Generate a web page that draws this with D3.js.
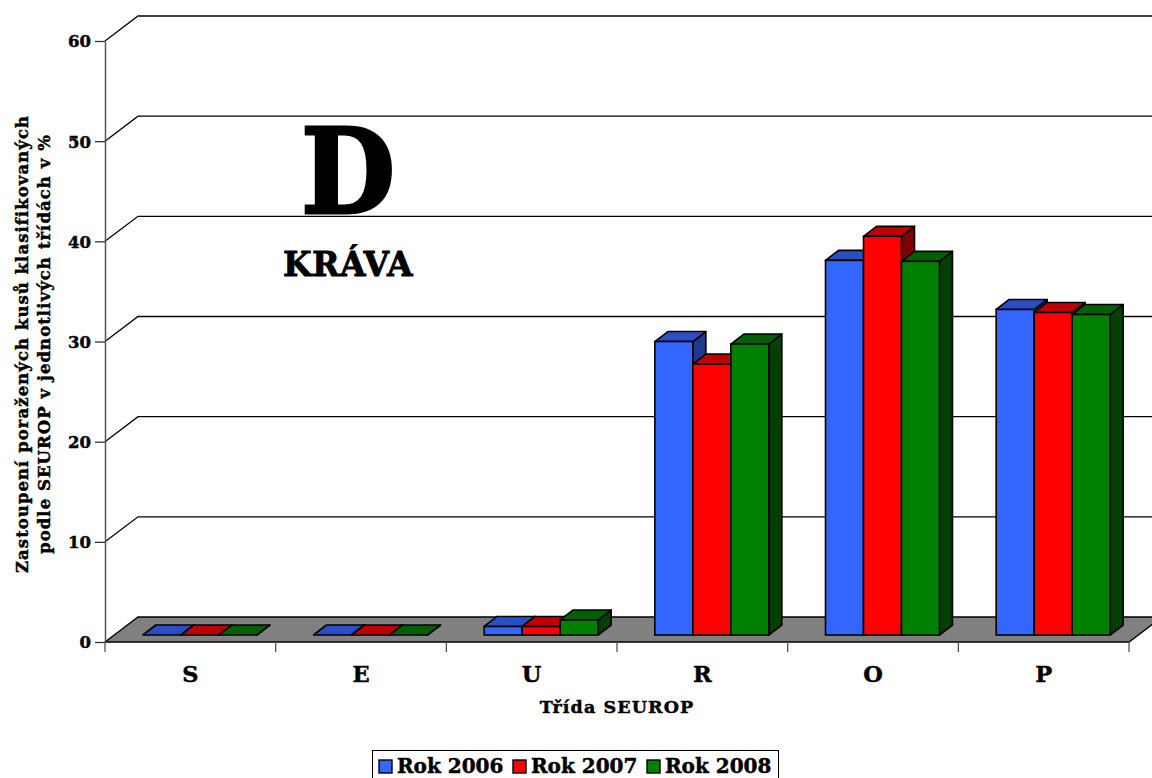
<!DOCTYPE html>
<html>
<head>
<meta charset="utf-8">
<script src="https://cdn.jsdelivr.net/npm/d3@7"></script>
<style>
  html, body { margin: 0; padding: 0; background: #fff; overflow: hidden; }
  text { font-family: "DejaVu Serif", serif; font-weight: bold; fill: #000; stroke: #000; stroke-width: 0.45px; }
</style>
</head>
<body>
<div id="chart"></div>
<script>
// Chart data
const classes = ["S", "E", "U", "R", "O", "P"];
const years = ["Rok 2006", "Rok 2007", "Rok 2008"];
const values2006 = [0, 0, 0.85, 29.3, 37.4, 32.5];
const values2007 = [0, 0, 0.85, 27.05, 39.8, 32.2];
const values2008 = [0, 0, 1.5, 29.05, 37.3, 32.0];
const yTicks = [0, 10, 20, 30, 40, 50, 60];
const seriesValues = [values2006, values2007, values2008];

const WIDTH = 1152;
const HEIGHT = 778;

// colours per series: front, top, side
const FRONT = ["#3366ff", "#ff0000", "#008000"];
const TOP = ["#2850c4", "#c00000", "#006000"];
const SIDE = ["#1e3a8c", "#800000", "#004000"];

// 3d depth of the chart box and of one bar
const DX = 33, DY = -25;
const BAR_DX = 13, BAR_DY = -10;
const BAR_SHIFT_X = 9.5, BAR_SHIFT_Y = -7;
const EDGE = 1.6;

const svg = d3.select("#chart").append("svg")
  .attr("width", WIDTH)
  .attr("height", HEIGHT)
  .attr("viewBox", `0 0 ${WIDTH} ${HEIGHT}`)
  .style("display", "block");

const y = d3.scaleLinear().domain([0, 60]).range([642, 41]);
const x = d3.scaleBand().domain(classes).range([105, 1129]);
const xSeries = d3.scaleBand().domain(years).range([0, 114]);
const groupOffset = (x.bandwidth() - xSeries.range()[1]) / 2;

const poly = pts => pts.map(p => p.join(",")).join(" ");

// gridlines on the back wall, they run off the right edge
const grid = svg.append("g");
grid.selectAll("path")
  .data(yTicks.filter(d => d > 0))
  .enter()
  .append("path")
  .attr("d", d => `M105,${y(d)}L${105 + DX},${y(d) + DY}H${WIDTH}`)
  .attr("fill", "none")
  .attr("stroke", "#000")
  .attr("stroke-width", 1.3);

// floor
svg.append("polygon")
  .attr("points", poly([[105, y(0)], [105 + DX, y(0) + DY], [1129 + DX, y(0) + DY], [1129, y(0)]]))
  .attr("fill", "#808080")
  .attr("stroke", "#000")
  .attr("stroke-width", 1.4);

// y axis
const yAxis = svg.append("g")
  .attr("transform", "translate(105,0)")
  .call(d3.axisLeft(y).tickValues(yTicks).tickSize(10).tickPadding(4).tickSizeOuter(0));
yAxis.select(".domain").attr("stroke", "#555").attr("stroke-width", 1.5);
yAxis.selectAll(".tick line").attr("stroke", "#333").attr("stroke-width", 1.3);
yAxis.selectAll("text")
  .attr("font-family", null)
  .attr("dy", "0.36em")
  .style("font-size", "16.5px");

// x axis ticks, labels sit in the middle of each band
const xTickPos = classes.map(c => x(c)).concat([x.range()[1]]);
svg.append("g").selectAll("line")
  .data(xTickPos)
  .enter()
  .append("line")
  .attr("x1", d => d).attr("x2", d => d)
  .attr("y1", y(0)).attr("y2", y(0) + 10)
  .attr("stroke", "#555")
  .attr("stroke-width", 1.3);

svg.append("g").selectAll("text")
  .data(classes)
  .enter()
  .append("text")
  .attr("x", d => x(d) + x.bandwidth() / 2)
  .attr("y", 682)
  .attr("text-anchor", "middle")
  .attr("font-size", 22.5)
  .text(d => d);

// bars, drawn from back series to front so the faces overlap like the original
const base = y(0) + BAR_SHIFT_Y;
const barH = v => y(0) - y(v);

classes.forEach((c, ci) => {
  const g = svg.append("g");
  years.forEach((yr, si) => {
    const v = seriesValues[si][ci];
    const x0 = x(c) + groupOffset + BAR_SHIFT_X + xSeries(yr);
    const x1 = x0 + xSeries.bandwidth();
    const top = base - barH(v);
    g.append("polygon")
      .attr("points", poly([[x1, base], [x1 + BAR_DX, base + BAR_DY], [x1 + BAR_DX, top + BAR_DY], [x1, top]]))
      .attr("fill", SIDE[si]).attr("stroke", "#000").attr("stroke-width", EDGE).attr("stroke-linejoin", "round");
    g.append("polygon")
      .attr("points", poly([[x0, top], [x0 + BAR_DX, top + BAR_DY], [x1 + BAR_DX, top + BAR_DY], [x1, top]]))
      .attr("fill", TOP[si]).attr("stroke", "#000").attr("stroke-width", EDGE).attr("stroke-linejoin", "round");
    g.append("rect")
      .attr("x", x0).attr("y", top)
      .attr("width", xSeries.bandwidth()).attr("height", base - top)
      .attr("fill", FRONT[si]).attr("stroke", "#000").attr("stroke-width", EDGE);
  });
});

// titles
svg.append("text")
  .attr("x", 617).attr("y", 713)
  .attr("text-anchor", "middle")
  .attr("font-size", 17.5)
  .attr("letter-spacing", 1.1)
  .text("Třída SEUROP");

const yTitle = svg.append("text")
  .attr("transform", "translate(28,344) rotate(-90)")
  .attr("text-anchor", "middle")
  .attr("font-size", 16.5)
  .attr("letter-spacing", 1.05);
yTitle.append("tspan").attr("x", 0).attr("y", 0).text("Zastoupení poražených kusů klasifikovaných");
yTitle.append("tspan").attr("x", 0).attr("y", 22).text("podle SEUROP v jednotlivých třídách v %");

svg.append("text")
  .attr("transform", "translate(348,213) scale(0.92,1)")
  .attr("text-anchor", "middle").attr("font-size", 118)
  .style("stroke-width", "3px").text("D");
svg.append("text").attr("x", 348).attr("y", 276)
  .attr("text-anchor", "middle").attr("font-size", 33)
  .attr("letter-spacing", 0.4)
  .style("stroke-width", "0.8px").text("KRÁVA");

// legend
const legendItemX = [379, 513, 647];
const legend = svg.append("g");
legend.append("rect")
  .attr("x", 372.5).attr("y", 750.5).attr("width", 406).attr("height", 40)
  .attr("fill", "#fff").attr("stroke", "#000").attr("stroke-width", 1);
years.forEach((yr, i) => {
  legend.append("rect")
    .attr("x", legendItemX[i]).attr("y", 760).attr("width", 13).attr("height", 13)
    .attr("fill", FRONT[i]).attr("stroke", "#000").attr("stroke-width", 1.4);
  legend.append("text")
    .attr("x", legendItemX[i] + 18).attr("y", 773)
    .attr("font-size", 20).text(yr);
});
</script>
</body>
</html>
